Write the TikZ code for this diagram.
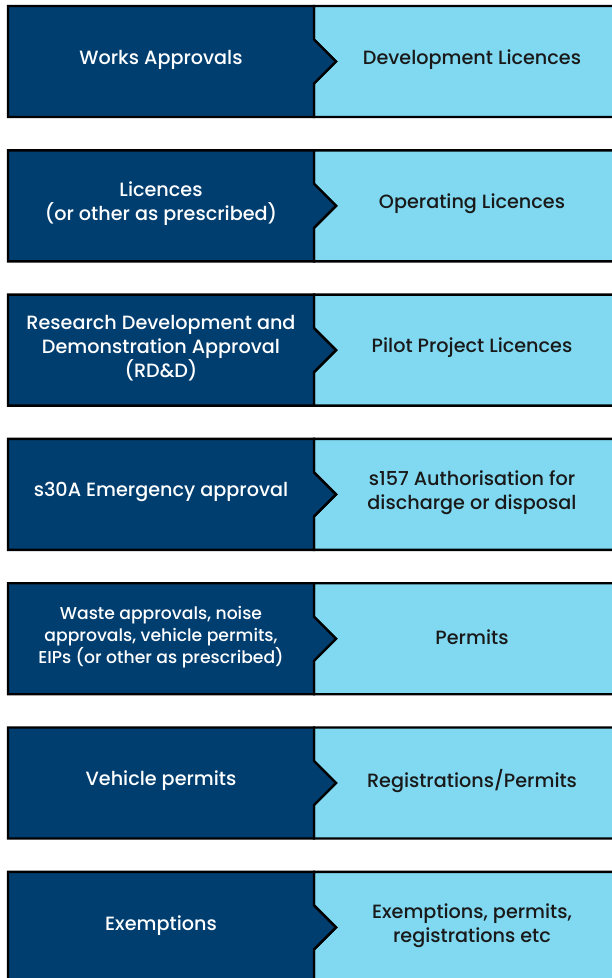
\documentclass[tikz,border=0pt]{standalone}
\usepackage{fontspec}
\setmainfont{Poppins}[UprightFont={* Medium}]
\usetikzlibrary{calc}
\definecolor{navy}{RGB}{0,62,112}
\definecolor{sky}{RGB}{128,217,241}
\definecolor{ink}{RGB}{25,25,25}

\begin{document}
\begin{tikzpicture}[x=1pt,y=-1pt]
\pgfmathsetmacro{\xMid}{314}
\pgfmathsetmacro{\tip}{22}

\tikzstyle{box}=[draw=black,line width=2.4,line join=miter]
\tikzstyle{lefttext}=[text=white,align=center,font=\fontsize{19.2}{24}\selectfont]
\tikzstyle{righttext}=[text=ink,align=center,font=\fontsize{19.2}{24}\selectfont]
\tikzstyle{smalltext}=[font=\fontsize{17.2}{22}\selectfont]

\useasboundingbox (0,0) rectangle (611,978);
\fill[white] (0,0) rectangle (611,978);

\foreach \row/\lefts/\rights/\sz in {
  1/{Works Approvals}/{Development Licences}/{},
  2/{Licences\\(or other as prescribed)}/{Operating Licences}/{},
  3/{Research Development and\\Demonstration Approval\\(RD\&D)}/{Pilot Project Licences}/{},
  4/{s30A Emergency approval}/{s157 Authorisation for\\discharge or disposal}/{},
  5/{Waste approvals, noise\\approvals, vehicle permits,\\EIPs (or other as prescribed)}/{Permits}/{smalltext},
  6/{Vehicle permits}/{Registrations/Permits}/{},
  7/{Exemptions}/{Exemptions, permits,\\registrations etc}/{}} {
  \pgfmathsetmacro{\yTop}{6+144.3*(\row-1)}
  \pgfmathsetmacro{\yBot}{\yTop+111}
  \pgfmathsetmacro{\yMid}{\yTop+55.5}
  % right box with notch
  \draw[box,fill=sky] (\xMid,\yTop) -- (616,\yTop) -- (616,\yBot) -- (\xMid,\yBot)
    -- (\xMid,\yMid+\tip) -- (\xMid+\tip,\yMid) -- (\xMid,\yMid-\tip) -- cycle;
  % left box with chevron
  \draw[box,fill=navy] (8,\yTop) -- (\xMid,\yTop) -- (\xMid,\yMid-\tip)
    -- (\xMid+\tip,\yMid) -- (\xMid,\yMid+\tip) -- (\xMid,\yBot) -- (8,\yBot) -- cycle;
  \node[lefttext,\sz] (approval-\row) at (161,\yMid-2) {\lefts};
  \node[righttext] (licence-\row) at (472,\yMid-2) {\rights};
}
\end{tikzpicture}
\end{document}
